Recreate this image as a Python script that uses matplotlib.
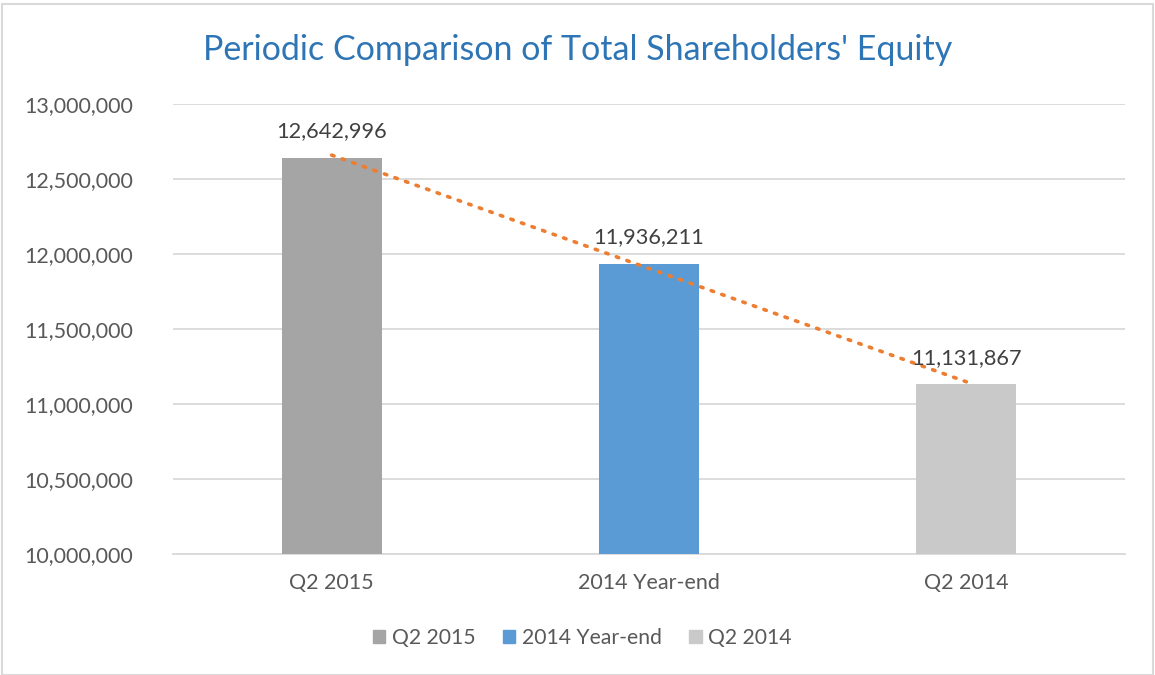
import matplotlib.pyplot as plt
import matplotlib.patches as mpatches
import numpy as np

plt.rcParams['font.family'] = ['Lato', 'DejaVu Sans']

# Data
categories = ["Q2 2015", "2014 Year-end", "Q2 2014"]
values = [12642996, 11936211, 11131867]
colors = ["#A5A5A5", "#5B9BD5", "#C9C9C9"]
yticks = [10000000, 10500000, 11000000, 11500000, 12000000, 12500000, 13000000]

text_color = "#595959"

fig = plt.figure(figsize=(11.55, 6.75), dpi=100)
ax = fig.add_axes([173 / 1155, 1 - 554 / 675, (1125 - 173) / 1155, 450 / 675])

x = np.arange(len(categories))
ax.bar(x, values, width=0.315, color=colors, zorder=3)

# Value labels
for xi, v in zip(x, values):
    ax.text(xi, v + 110000, f"{v:,}", ha="center", va="bottom",
            fontsize=15.7, color="#404040", zorder=5)

# Linear trendline
slope, intercept = np.polyfit(x, values, 1)
tx = np.array([0, 2])
ax.plot(tx, slope * tx + intercept, color="#ED7D31", linestyle=(0, (0.7, 2.4)),
        linewidth=2.6, dash_capstyle="round", zorder=4)

ax.set_xlim(-0.5, 2.5)
ax.set_ylim(10000000, 13000000)
ax.set_yticks(yticks)
ax.set_yticklabels([f"{t:,}" for t in yticks], fontsize=15.5, color=text_color)
ax.set_xticks(x)
ax.set_xticklabels(categories, fontsize=15.5, color=text_color)
ax.tick_params(length=0)
ax.tick_params(axis="y", pad=29)
ax.tick_params(axis="x", pad=14)
ax.grid(axis="y", color="#D9D9D9", linewidth=1.3, zorder=0)
for s in ["top", "right", "left"]:
    ax.spines[s].set_visible(False)
ax.spines["bottom"].set_color("#D9D9D9")
ax.spines["bottom"].set_linewidth(1.3)

fig.text(578 / 1155, 1 - 50 / 675, "Periodic Comparison of Total Shareholders' Equity",
         ha="center", va="center", fontsize=24.5, color="#2E75B6")

handles = [mpatches.Patch(color=c, label=l) for c, l in zip(colors, categories)]
fig.legend(handles=handles, loc="center", bbox_to_anchor=(582 / 1155, 1 - 638 / 675),
           ncol=3, frameon=False, fontsize=15.2, handlelength=0.6, handleheight=0.6,
           handletextpad=0.3, columnspacing=1.3, labelcolor=text_color)

# Outer border
fig.patches.append(mpatches.Rectangle((2 / 1155, 0), 1151 / 1155, 671 / 675,
                                      transform=fig.transFigure, fill=False,
                                      edgecolor="#D9D9D9", linewidth=1.5))

fig.savefig("out.png", dpi=100)
